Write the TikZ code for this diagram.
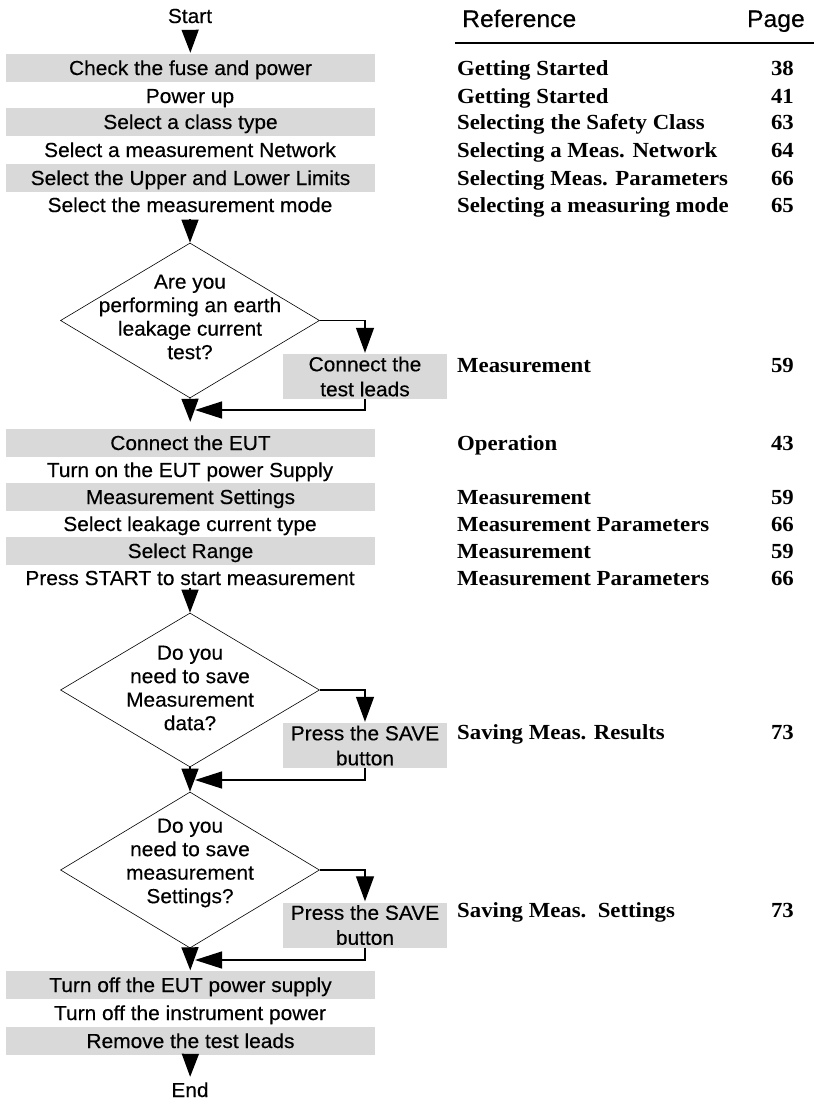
\documentclass[tikz,border=0pt]{standalone}
\usepackage{fontspec}
\setmainfont{Liberation Sans}[FakeStretch=1.03,FakeBold=0.35]
\newfontfamily\refserif{Liberation Serif}[FakeStretch=1.06]
\usetikzlibrary{shapes.geometric,arrows.meta,calc}
\definecolor{bargray}{RGB}{217,217,217}
\tikzset{
 lbl/.style={font=\fontsize{20.3}{23}\selectfont, text height=14pt, text depth=0pt, inner sep=0pt},
 bar/.style={lbl, fill=bargray, minimum width=369pt, minimum height=28pt},
 dec/.style={diamond, draw, line width=0.6pt, minimum width=259pt, minimum height=155pt, inner sep=0pt},
 dtext/.style={font=\fontsize{20.3}{23.5}\selectfont, align=center, inner sep=0pt},
 sidebox/.style={fill=bargray, minimum width=164pt, minimum height=45pt, font=\fontsize{20.3}{25}\selectfont, align=center, inner sep=0pt},
 refent/.style={font=\refserif\bfseries\fontsize{21.5}{24}\selectfont, anchor=base west, inner sep=0pt},
 pgno/.style={font=\refserif\bfseries\fontsize{21.5}{24}\selectfont, anchor=base east, inner sep=0pt},
 hdr/.style={font=\fontsize{24}{28}\selectfont, inner sep=0pt},
 down/.style={-{Triangle[width=17pt,length=23pt]}, line width=1.3pt},
 side/.style={-{Triangle[width=18pt,length=25pt]}, line width=1.3pt},
 back/.style={-{Triangle[width=17pt,length=27pt]}, line width=1.3pt},
}
\begin{document}
\begin{tikzpicture}[x=1pt,y=-1pt]
\useasboundingbox (0,0) rectangle (814,1101);
% left column
\node[lbl] (start) at (190,16) {Start};
\node[bar] (fuse) at (190.5,68) {Check the fuse and power};
\node[lbl] (pwr) at (190,96) {Power up};
\node[bar] (cls) at (190.5,122) {Select a class type};
\node[lbl] (net) at (190,150) {Select a measurement Network};
\node[bar] (lim) at (190.5,178) {Select the Upper and Lower Limits};
\node[lbl] (mode) at (190,205) {Select the measurement mode};

\node[dec] (d1) at (190,320.5) {};
\node[dtext] (d1t) at (190,317) {Are you\\performing an earth\\leakage current\\test?};
\node[sidebox] (b1) at (365,376.5) {Connect the\\test leads};
\coordinate (r1) at (195,410);

\node[bar] (eut) at (190.5,443) {Connect the EUT};
\node[lbl] (on) at (190,470) {Turn on the EUT power Supply};
\node[bar] (mset) at (190.5,497) {Measurement Settings};
\node[lbl] (ltype) at (190,524) {Select leakage current type};
\node[bar] (rng) at (190.5,551) {Select Range};
\node[lbl] (press) at (190,578) {Press START to start measurement};

\node[dec, minimum height=154pt] (d2) at (190,690) {};
\node[dtext] (d2t) at (190,688) {Do you\\need to save\\Measurement\\data?};
\node[sidebox] (b2) at (365,745.5) {Press the SAVE\\button};
\coordinate (r2) at (195,780);

\node[dec, minimum height=156pt] (d3) at (190,870) {};
\node[dtext] (d3t) at (190,863) {Do you\\need to save\\measurement\\Settings?};
\node[sidebox] (b3) at (365,925) {Press the SAVE\\button};
\coordinate (r3) at (195,960);

\node[bar] (off1) at (190.5,985) {Turn off the EUT power supply};
\node[lbl] (off2) at (190,1013) {Turn off the instrument power};
\node[bar] (rem) at (190.5,1041) {Remove the test leads};
\node[lbl] (end) at (190,1090) {End};

% connectors
\draw[down, shorten <=7pt, shorten >=1pt] (start) -- (fuse);
\draw[down, shorten <=7pt] (mode) -- (d1.north);
\draw[down, shorten >=7pt] (d1.south) -- (eut);
\draw[side, shorten >=1pt] (d1.east) -| (b1.north);
\draw[back] (b1.south) |- (r1);

\draw[down, shorten <=3pt] (press) -- (d2.north);
\draw[down] (d2.south) -- (d3.north);
\draw[side, shorten >=1pt] (d2.east) -| (b2.north);
\draw[back] (b2.south) |- (r2);

\draw[down, shorten >=0.5pt] (d3.south) -- (off1);
\draw[side, shorten >=1pt] (d3.east) -| (b3.north);
\draw[back] (b3.south) |- (r3);
\draw[down, shorten >=6pt] (rem) -- (end);

% right column
\node[hdr, anchor=base west] (hr) at (462,27) {Reference};
\node[hdr, anchor=base east] (hp) at (805,27) {Page};
\coordinate (rl) at (455,43);
\coordinate (rr) at (814,43);
\draw[line width=1.5pt] (rl) -- (rr);

\foreach \y/\t/\p [count=\i] in {
  68/Getting Started/38,
  96/Getting Started/41,
  122/Selecting the Safety Class/63,
  150/Selecting a Meas. Network/64,
  178/Selecting Meas. Parameters/66,
  205/Selecting a measuring mode/65,
  365/Measurement/59,
  443/Operation/43,
  497/Measurement/59,
  524/Measurement Parameters/66,
  551/Measurement/59,
  578/Measurement Parameters/66,
  732/Saving Meas. Results/73,
  910/Saving Meas.\ \ Settings/73}{
  \node[refent] (e\i) at (457,\y+7) {\t};
  \node[pgno] (p\i) at (794,\y+7) {\p};
}
\end{tikzpicture}
\end{document}
